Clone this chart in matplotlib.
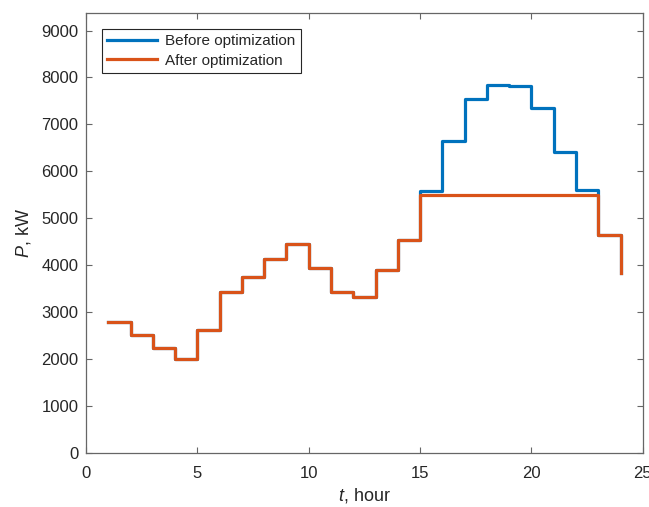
import matplotlib
matplotlib.use('Agg')
import matplotlib.pyplot as plt
import numpy as np

# ================== DATA ==================
hours = np.arange(1, 25)

after_opt = [2800, 2520, 2250, 2000, 2620, 3430, 3760, 4140, 4460, 3940,
             3430, 3330, 3910, 4550, 5500, 5500, 5500, 5500, 5500, 5500,
             5500, 5500, 4650, 3840]

before_opt = [2800, 2520, 2250, 2000, 2620, 3430, 3760, 4140, 4460, 3940,
              3430, 3330, 3910, 4550, 5580, 6650, 7550, 7840, 7810, 7340,
              6420, 5610, 4650, 3840]
# ==========================================

plt.rcParams['font.family'] = 'Liberation Sans'
plt.rcParams['mathtext.fontset'] = 'custom'
plt.rcParams['mathtext.it'] = 'Liberation Sans:italic'
plt.rcParams['mathtext.rm'] = 'Liberation Sans'

c_blue = (0.0, 0.447, 0.741)
c_orange = (0.85, 0.325, 0.098)
c_text = (0.15, 0.15, 0.15)
c_spine = (0.4, 0.4, 0.4)

fig = plt.figure(figsize=(6.49, 5.07), dpi=100)
ax = fig.add_axes([0.1325, 0.106, 0.858, 0.869])

ax.step(hours, before_opt, where='post', color=c_blue, linewidth=2.3,
        label='Before optimization')
ax.step(hours, after_opt, where='post', color=c_orange, linewidth=2.3,
        label='After optimization')

ax.set_xlim(0, 25)
ax.set_ylim(0, 9380)
ax.set_xticks(np.arange(0, 26, 5))
ax.set_yticks(np.arange(0, 9001, 1000))

ax.tick_params(direction='in', top=True, right=True, length=4, width=0.8,
               colors=c_spine, labelsize=12, labelcolor=c_text)
ax.tick_params(axis='x', pad=9.5)
ax.tick_params(axis='y', pad=5.5)
for sp in ax.spines.values():
    sp.set_color(c_spine)
    sp.set_linewidth(0.9)

ax.set_xlabel('$t$, hour', fontsize=13, color=c_text, labelpad=3)
ax.set_ylabel('$P$, kW', fontsize=13, color=c_text, labelpad=6)

leg = ax.legend(loc='upper left', bbox_to_anchor=(0.028, 0.963), fontsize=11,
                handlelength=3.3, handletextpad=0.5, borderpad=0.35,
                labelspacing=0.35, fancybox=False, framealpha=1,
                edgecolor=c_text, borderaxespad=0)
leg.get_frame().set_linewidth(0.8)
for t in leg.get_texts():
    t.set_color(c_text)

fig.savefig('out.png', dpi=100)
